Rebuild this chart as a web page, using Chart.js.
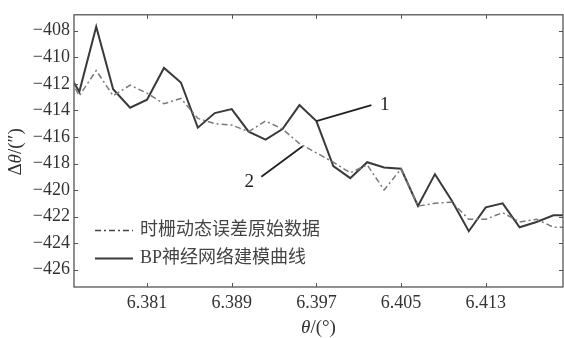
<!DOCTYPE html>
<html>
<head>
<meta charset="utf-8">
<script src="https://cdn.jsdelivr.net/npm/chart.js@4.4.1/dist/chart.umd.min.js"></script>
<style>
  html, body { margin: 0; padding: 0; background: #fff; }
  #wrap { width: 564px; height: 338px; }
</style>
</head>
<body>
<div id="wrap"><canvas id="myChart"></canvas></div>
<script>
// angle positions (deg)
var angles = [6.3730, 6.3746, 6.3762, 6.3778, 6.3794, 6.3810, 6.3826, 6.3842, 6.3858, 6.3874,
              6.3890, 6.3906, 6.3922, 6.3938, 6.3954, 6.3970, 6.3986, 6.4002, 6.4018, 6.4034,
              6.4050, 6.4066, 6.4082, 6.4098, 6.4114, 6.4130, 6.4146, 6.4162, 6.4178, 6.4194, 6.4210];

// 时栅动态误差原始数据
var rawError = [-410.5, -412.9, -411.0, -412.9, -412.1, -412.7, -413.5, -413.1, -414.6, -415.0,
                -415.1, -415.6, -414.8, -415.4, -416.5, -417.2, -417.9, -418.7, -418.1, -420.0,
                -418.4, -421.2, -421.0, -420.9, -422.2, -422.2, -421.7, -422.4, -422.2, -422.8, -422.8];

// BP神经网络建模曲线
var bpModel = [-410.4, -412.6, -407.7, -412.4, -413.8, -413.2, -410.8, -411.9, -415.3, -414.2,
               -413.9, -415.6, -416.2, -415.4, -413.6, -414.8, -418.2, -419.1, -417.9, -418.3,
               -418.4, -421.2, -418.8, -420.8, -423.1, -421.3, -421.0, -422.8, -422.4, -421.9, -421.9];

var seriesNames = ['时栅动态误差原始数据', 'BP神经网络建模曲线'];

var xTicks = [6.381, 6.389, 6.397, 6.405, 6.413];
var yTicks = [-408, -410, -412, -414, -416, -418, -420, -422, -424, -426];

// axis titles, split so θ can be italic: [text, italic]
var xTitle = [['θ', true], ['/(°)', false]];
var yTitle = [['Δ', false], ['θ', true], ['/(″)', false]];

// callout labels: text, anchor point, label point (data units)
var calloutText = ['1', '2'];
var calloutFrom = [[6.3970, -414.8], [6.3957, -416.7]];
var calloutTo = [[6.4022, -413.6], [6.3918, -419.0]];
var calloutLabel = [[6.4030, -413.6], [6.3911, -419.4]];

var serif = '"Liberation Serif", "Noto Sans CJK SC", serif';

function pts(ys) {
  return angles.map(function (x, i) { return { x: x, y: ys[i] }; });
}

function minus(v) {
  return (v < 0 ? '\u2212' : '') + Math.abs(v);
}

// draws mixed upright/italic text centred at (0,0) of the current transform
function drawParts(ctx, parts, size) {
  var w = 0;
  parts.forEach(function (p) {
    ctx.font = (p[1] ? 'italic ' : '') + size + 'px ' + serif;
    w += ctx.measureText(p[0]).width;
  });
  var x = -w / 2;
  parts.forEach(function (p) {
    ctx.font = (p[1] ? 'italic ' : '') + size + 'px ' + serif;
    ctx.fillText(p[0], x, 0);
    x += ctx.measureText(p[0]).width;
  });
}

// frame with inward tick marks + axis titles
var framePlugin = {
  id: 'frame',
  afterDraw: function (chart) {
    var ctx = chart.ctx, a = chart.chartArea;
    var sx = chart.scales.x, sy = chart.scales.y;
    ctx.save();
    ctx.strokeStyle = '#555';
    ctx.lineWidth = 1.3;
    ctx.strokeRect(a.left, a.top, a.right - a.left, a.bottom - a.top);
    ctx.lineWidth = 1;
    ctx.beginPath();
    xTicks.forEach(function (v) {
      var p = Math.round(sx.getPixelForValue(v)) + 0.5;
      ctx.moveTo(p, a.bottom); ctx.lineTo(p, a.bottom - 4);
      ctx.moveTo(p, a.top); ctx.lineTo(p, a.top + 4);
    });
    yTicks.forEach(function (v) {
      var p = Math.round(sy.getPixelForValue(v)) + 0.5;
      ctx.moveTo(a.left, p); ctx.lineTo(a.left + 4, p);
      ctx.moveTo(a.right, p); ctx.lineTo(a.right - 4, p);
    });
    ctx.stroke();

    ctx.fillStyle = '#333';
    ctx.textAlign = 'left';
    ctx.textBaseline = 'middle';
    ctx.save();
    ctx.translate((a.left + a.right) / 2, chart.height - 10);
    drawParts(ctx, xTitle, 19);
    ctx.restore();
    ctx.save();
    ctx.translate(16, (a.top + a.bottom) / 2 + 1);
    ctx.rotate(-Math.PI / 2);
    drawParts(ctx, yTitle, 19);
    ctx.restore();
    ctx.restore();
  }
};

// callouts "1" and "2"
var calloutPlugin = {
  id: 'callouts',
  afterDatasetsDraw: function (chart) {
    var ctx = chart.ctx, sx = chart.scales.x, sy = chart.scales.y;
    ctx.save();
    ctx.strokeStyle = '#222';
    ctx.lineWidth = 1.8;
    ctx.fillStyle = '#222';
    ctx.font = '19px ' + serif;
    ctx.textBaseline = 'middle';
    calloutText.forEach(function (t, i) {
      ctx.beginPath();
      ctx.moveTo(sx.getPixelForValue(calloutFrom[i][0]), sy.getPixelForValue(calloutFrom[i][1]));
      ctx.lineTo(sx.getPixelForValue(calloutTo[i][0]), sy.getPixelForValue(calloutTo[i][1]));
      ctx.stroke();
      ctx.textAlign = i === 1 ? 'right' : 'left';
      ctx.fillText(t, sx.getPixelForValue(calloutLabel[i][0]), sy.getPixelForValue(calloutLabel[i][1]));
    });
    ctx.restore();
  }
};

// legend inside the plot, lower left
var legendPlugin = {
  id: 'innerLegend',
  afterDraw: function (chart) {
    var ctx = chart.ctx, a = chart.chartArea;
    var rows = [a.bottom - 57, a.bottom - 29];
    ctx.save();
    chart.data.datasets.forEach(function (ds, i) {
      var y = rows[i] + 0.5;
      ctx.strokeStyle = i === 0 ? '#444' : ds.borderColor;
      ctx.lineWidth = ds.borderWidth;
      ctx.setLineDash(ds.borderDash || []);
      ctx.beginPath();
      ctx.moveTo(a.left + 21, y);
      ctx.lineTo(a.left + 59, y);
      ctx.stroke();
      ctx.setLineDash([]);
      ctx.fillStyle = '#444';
      ctx.font = '18px ' + serif;
      ctx.textBaseline = 'middle';
      ctx.textAlign = 'left';
      ctx.fillText(ds.label, a.left + 66, y);
    });
    ctx.restore();
  }
};

document.addEventListener('DOMContentLoaded', function () {
  var ctx = document.getElementById('myChart').getContext('2d');

  var config = {
    type: 'line',
    data: {
      datasets: [{
        label: seriesNames[0],
        data: pts(rawError),
        borderColor: '#7a7a7a',
        borderWidth: 1.5,
        borderDash: [6, 3, 2, 3],
        pointRadius: 0,
        fill: false,
        tension: 0
      }, {
        label: seriesNames[1],
        data: pts(bpModel),
        borderColor: '#3a3a3a',
        borderWidth: 2,
        pointRadius: 0,
        fill: false,
        tension: 0
      }]
    },
    options: {
      responsive: true,
      maintainAspectRatio: false,
      animation: false,
      layout: { padding: { top: 13, right: 1, left: 0, bottom: 0 } },
      plugins: {
        legend: { display: false },
        tooltip: { enabled: false }
      },
      scales: {
        x: {
          type: 'linear',
          min: 6.3741,
          max: 6.4203,
          grid: { display: false, drawTicks: false },
          border: { display: false },
          afterBuildTicks: function (s) { s.ticks = xTicks.map(function (v) { return { value: v }; }); },
          afterFit: function (s) { s.height = 51; },
          ticks: {
            color: '#333',
            padding: 5,
            maxRotation: 0,
            font: { family: serif, size: 18 },
            callback: function (v) { return v.toFixed(3); }
          }
        },
        y: {
          min: -427.3,
          max: -406.8,
          grid: { display: false, drawTicks: false },
          border: { display: false },
          afterBuildTicks: function (s) { s.ticks = yTicks.map(function (v) { return { value: v }; }); },
          afterFit: function (s) { s.width = 74; },
          ticks: {
            color: '#333',
            padding: 4,
            font: { family: serif, size: 18 },
            callback: function (v) { return minus(v); }
          }
        }
      }
    },
    plugins: [framePlugin, calloutPlugin, legendPlugin]
  };

  var myChart = new Chart(ctx, config);
});
</script>
</body>
</html>
